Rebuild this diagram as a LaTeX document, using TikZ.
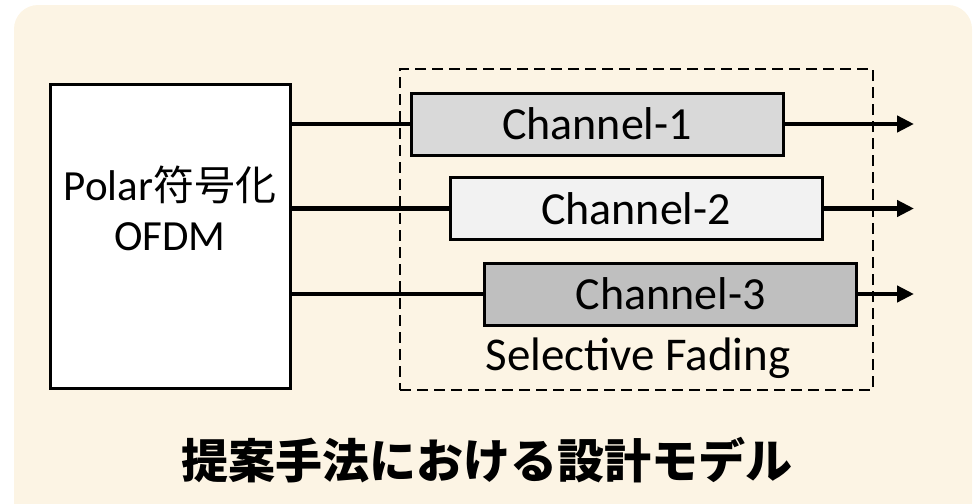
\documentclass[tikz,border=0pt]{standalone}
\usepackage{fontspec}
\setmainfont{Carlito}
\newfontfamily\cjk{Noto Sans CJK JP}
\usetikzlibrary{positioning,arrows.meta}

\definecolor{bgcream}{HTML}{FCF4E4}
\definecolor{chA}{HTML}{D9D9D9}
\definecolor{chB}{HTML}{F2F2F2}
\definecolor{chC}{HTML}{BFBFBF}

\begin{document}
\begin{tikzpicture}[
  x=0.5pt, y=-0.5pt,
  blk/.style={rectangle, draw=black, line width=1.5pt, fill=#1,
              inner sep=0pt, font=\fontsize{23}{25}\selectfont},
  ch/.style={blk=#1, minimum width=186pt, minimum height=31pt},
  ar/.style={line width=2.2pt, -{Triangle[length=8.5pt,width=8pt]}},
  ln/.style={line width=2.2pt},
]
\useasboundingbox (0,0) rectangle (978,503);
\fill[bgcream, rounded corners=12pt] (14,5) rectangle (972,540);

% blocks
\node[blk=white, minimum width=120pt, minimum height=152pt] (P) at (170,236) {};
\node[font=\fontsize{21.5}{25}\selectfont, align=center] (Pt) at (170,208)
  {Polar{\cjk\fontsize{20.5}{25}\selectfont 符号化}\\OFDM};
\node[draw, dash pattern=on 5.5pt off 3pt, line width=1.1pt,
      minimum width=236.5pt, minimum height=160.5pt, inner sep=0pt]
  (F) at (636.5,229.5) {};
\node[ch=chA] (C1) at (597,124)   {Channel-1};
\node[ch=chB] (C2) at (636,208.5) {Channel-2};
\node[ch=chC] (C3) at (670.5,294) {Channel-3};
\node[font=\fontsize{23.5}{25}\selectfont] (S) at (638,358) {Selective Fading};

% outputs
\coordinate (o1) at (914,124);
\coordinate (o2) at (914,208.5);
\coordinate (o3) at (914,294);

\foreach \c/\o in {C1/o1, C2/o2, C3/o3}{
  \draw[ln] (P.east |- \c.west) -- (\c.west);
  \draw[ar] (\c.east) -- (\o);
}

\node[font=\cjk\bfseries\fontsize{23.5}{26}\selectfont] (T) at (487,460)
  {提案手法における設計モデル};
\end{tikzpicture}
\end{document}
